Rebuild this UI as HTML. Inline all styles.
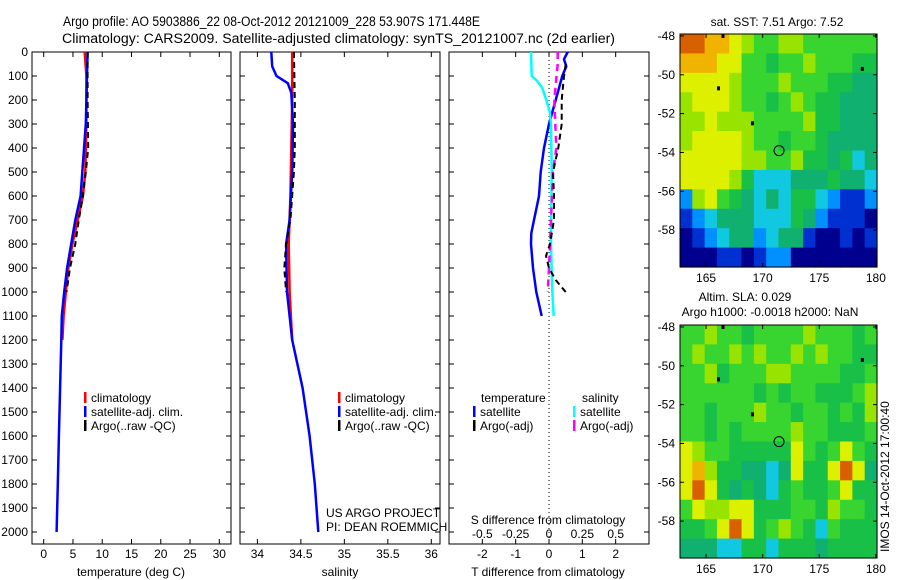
<!DOCTYPE html>
<html><head><meta charset="utf-8"><style>
body{margin:0;background:#fff}
svg{display:block;font-family:"Liberation Sans",sans-serif}
</style></head><body>
<svg id="fig" width="900" height="580" viewBox="0 0 900 580">
<text x="63" y="26" font-size="13.5" textLength="417" lengthAdjust="spacingAndGlyphs">Argo profile: AO 5903886_22 08-Oct-2012 20121009_228 53.907S 171.448E</text>
<text x="62" y="43" font-size="13.5" textLength="553" lengthAdjust="spacingAndGlyphs">Climatology: CARS2009. Satellite-adjusted climatology: synTS_20121007.nc (2d earlier)</text>
<g id="g"></g>
</svg>
<script>
// ---------- data ----------
const depthTicks=[0,100,200,300,400,500,600,700,800,900,1000,1100,1200,1300,1400,1500,1600,1700,1800,1900,2000];
const tTicks=[0,5,10,15,20,25,30];
const sTicks=[34,34.5,35,35.5,36];
const dTTicks=[-2,-1,0,1,2];
const dSTicks=[-0.5,-0.25,0,0.25,0.5];
const dSTickLabels=["-0.5","-0.25","0","0.25","0.5"];
// temperature panel
const tClimDepth=[0,100,300,500,600,700,800,900,1000,1100,1200];
const tClimVal=[7.0,7.3,7.3,7.1,6.7,5.8,4.9,4.2,3.8,3.4,3.2];
const tSatDepth=[0,100,300,500,600,700,800,900,1000,1100,1200,1400,1500,1600,1800,2000];
const tSatVal=[7.5,7.4,7.2,6.6,6.3,5.4,4.7,4.0,3.5,3.1,3.0,2.8,2.7,2.6,2.4,2.2];
const tArgoDepth=[0,200,400,500,600,700,800,900,1000];
const tArgoVal=[7.5,7.5,7.6,7.2,6.7,6.0,5.4,4.5,3.9];
// salinity panel
const sClimDepth=[0,200,400,600,800,1000,1200];
const sClimVal=[34.40,34.40,34.39,34.38,34.36,34.37,34.40];
const sSatDepth=[0,60,100,130,170,300,500,700,800,1000,1200,1400,1600,1800,2000];
const sSatVal=[34.16,34.17,34.22,34.35,34.39,34.41,34.40,34.37,34.33,34.34,34.40,34.52,34.60,34.66,34.70];
const sArgoDepth=[0,200,400,500,700,800,900,1000];
const sArgoVal=[34.42,34.43,34.43,34.42,34.38,34.33,34.31,34.33];
// difference panel
const dTSatDepth=[0,30,60,100,200,300,400,500,600,700,755,800,900,1000,1100];
const dTSatVal=[0.56,0.45,0.52,0.40,0.20,0.00,-0.15,-0.25,-0.30,-0.45,-0.53,-0.54,-0.48,-0.38,-0.22];
const dTArgoDepth=[50,100,200,300,400,500,600,700,800,850,900,950,1000];
const dTArgoVal=[0.50,0.45,0.38,0.38,0.28,0.12,0.15,0.15,0.03,-0.09,0.00,0.20,0.50];
const dSSatDepth=[0,100,120,150,200,250,300,500,800,1000,1100];
const dSSatVal=[-0.135,-0.13,-0.09,-0.05,-0.02,0.005,0.015,0.02,0.015,0.025,0.035];
const dSArgoDepth=[0,50,200,400,500,700,900,1000];
const dSArgoVal=[0.065,0.065,0.04,0.055,0.03,0.015,0.0,-0.01];
// maps
const lonTicks=[165,170,175,180];
const latTicks=[-48,-50,-52,-54,-56,-58];
const sstGrid=[
[10,10,9,9,8,7,6,6,7,7,6,6,6,6,6,6],
[9,9,9,8,8,6,6,5,6,6,7,6,6,6,5,5],
[8,8,8,8,7,6,6,6,7,6,6,6,5,5,4,4],
[7,8,8,8,7,6,6,5,6,7,6,5,5,4,4,4],
[7,7,8,7,7,7,6,6,6,6,7,5,5,4,4,4],
[7,8,8,8,8,7,6,6,5,6,6,5,4,4,4,4],
[8,8,8,8,8,7,7,6,6,7,5,5,4,5,3,4],
[8,8,8,8,7,5,3,3,3,4,4,4,5,4,4,3],
[2,7,8,6,5,4,3,4,3,5,5,3,2,1,1,2],
[1,2,3,4,4,4,3,3,3,5,4,2,1,1,1,0],
[0,1,2,3,4,4,2,3,4,4,1,0,0,1,0,1],
[0,0,0,1,1,0,1,2,2,0,0,0,0,0,0,0]];
const slaGrid=[
[6,6,7,6,6,5,6,6,6,6,7,6,6,6,5,6],
[6,7,6,6,7,6,7,6,6,7,6,7,6,6,5,5],
[6,6,7,5,6,6,6,7,7,6,6,6,6,5,5,6],
[6,6,6,6,6,6,5,6,5,6,6,5,5,5,6,7],
[6,6,5,6,6,6,7,6,6,5,6,6,5,6,5,7],
[6,6,5,6,5,6,6,6,6,7,6,6,5,5,5,6],
[8,7,6,6,5,5,5,5,5,8,6,5,6,8,6,5],
[8,9,7,5,5,4,4,3,4,8,5,5,8,10,8,4],
[8,10,8,5,4,5,4,3,5,6,5,5,6,8,5,5],
[6,8,7,7,8,8,5,5,5,6,6,5,7,6,6,5],
[5,5,6,8,10,8,5,6,7,6,5,3,6,5,5,5],
[4,4,4,3,3,5,5,3,5,5,5,4,5,5,5,5]];
const islandLon=[166.1,169.1,178.8,166.5];
const islandLat=[-50.7,-52.5,-49.7,-48.0];
const floatLon=171.448, floatLat=-53.907;

// ---------- helpers ----------
const NS="http://www.w3.org/2000/svg";
const G=document.getElementById('g');
function mk(tag,attrs,parent){const e=document.createElementNS(NS,tag);for(const k in attrs)e.setAttribute(k,attrs[k]);(parent||G).appendChild(e);return e;}
const Y0=52, PXM=0.24, YB=544;
const yD=d=>Y0+d*PXM;
function lin(d0,d1,r0,r1){return v=>r0+(v-d0)*(r1-r0)/(d1-d0);}
const P1={l:32,r:231}, P2={l:240,r:440}, P3={l:449,r:649};
const xT=lin(-2,32,P1.l,P1.r), xS=lin(33.8,36.1,P2.l,P2.r), xDT=lin(-3,3,P3.l,P3.r), xDS=lin(-0.75,0.75,P3.l,P3.r);

function frame(P,name){
  const r=mk('rect',{x:P.l,y:Y0,width:P.r-P.l,height:YB-Y0,fill:'none',stroke:'#000','stroke-width':1});
  
  
  depthTicks.forEach(d=>{mk('line',{x1:P.l,x2:P.l+5,y1:yD(d),y2:yD(d),stroke:'#000'});mk('line',{x1:P.r,x2:P.r-5,y1:yD(d),y2:yD(d),stroke:'#000'});});
}
function xticks(P,ticks,f,labels,ly){
  ticks.forEach((t,i)=>{const x=f(t);mk('line',{x1:x,x2:x,y1:Y0,y2:Y0+5,stroke:'#000'});mk('line',{x1:x,x2:x,y1:YB,y2:YB-5,stroke:'#000'});
   const tx=mk('text',{x:x,y:ly,'font-size':12,'text-anchor':'middle'});tx.textContent=labels?labels[i]:String(t);
   
   });
}
function series(xs,ds,f,color,w,dash,name){
  const pts=xs.map((v,i)=>f(v).toFixed(1)+','+yD(ds[i]).toFixed(1)).join(' ');
  const a={points:pts,fill:'none',stroke:color,'stroke-width':w,'stroke-linejoin':'round'};
  if(dash)a['stroke-dasharray']=dash;
  const p=mk('polyline',a);
  
  
}
function txt(x,y,s,name,extra){const t=mk('text',Object.assign({x:x,y:y,'font-size':12},extra||{}));t.textContent=s;
  
  return t;}
function legend(x,y,color,label,name){
  const b=mk('rect',{x:x,y:y-10,width:2.5,height:11,fill:color});
  
  
  txt(x+7,y,label,name);
}

// ---------- panel 1 ----------
frame(P1,'temperature-axes');
depthTicks.forEach(d=>{const t=txt(28,yD(d)+4,String(d),'y-tick-label',{'text-anchor':'end'});});
xticks(P1,tTicks,xT,null,558);
txt(131,576,'temperature (deg C)','x-axis-title-temperature',{'text-anchor':'middle'});
series(tClimVal,tClimDepth,xT,'#f00',2.5,null,'temp-climatology-line');
series(tSatVal,tSatDepth,xT,'#00f',2.5,null,'temp-satellite-line');
series(tArgoVal,tArgoDepth,xT,'#000',2,'6,4','temp-argo-line');
legend(84,402,'#f00','climatology','legend-climatology');
legend(84,416,'#00f','satellite-adj. clim.','legend-satellite');
legend(84,430,'#000','Argo(..raw -QC)','legend-argo');

// ---------- panel 2 ----------
frame(P2,'salinity-axes');
xticks(P2,sTicks,xS,null,558);
txt(340,576,'salinity','x-axis-title-salinity',{'text-anchor':'middle'});
series(sClimVal,sClimDepth,xS,'#f00',2.5,null,'sal-climatology-line');
series(sSatVal,sSatDepth,xS,'#00f',2.5,null,'sal-satellite-line');
series(sArgoVal,sArgoDepth,xS,'#000',2,'6,4','sal-argo-line');
legend(338,402,'#f00','climatology','legend-climatology-2');
legend(338,416,'#00f','satellite-adj. clim.','legend-satellite-2');
legend(338,430,'#000','Argo(..raw -QC)','legend-argo-2');
txt(326,517,'US ARGO PROJECT','credit-project');
txt(326,531,'PI: DEAN ROEMMICH','credit-pi');

// ---------- panel 3 ----------
frame(P3,'difference-axes');
xticks(P3,dTTicks,xDT,null,558);
dSTicks.forEach((t,i)=>{txt(xDS(t),538,dSTickLabels[i],'s-tick-label',{'text-anchor':'middle'});});
txt(548,524,'S difference from climatology','s-axis-title',{'text-anchor':'middle'});
txt(548,576,'T difference from climatology','t-axis-title',{'text-anchor':'middle'});
const z=mk('line',{x1:xDT(0),x2:xDT(0),y1:Y0,y2:YB,stroke:'#000','stroke-dasharray':'1,3'});


series(dTSatVal,dTSatDepth,xDT,'#00f',2.5,null,'dT-satellite-line');
series(dSSatVal,dSSatDepth,xDS,'#0ff',2.5,null,'dS-satellite-line');
series(dSArgoVal,dSArgoDepth,xDS,'#f0f',2.5,'7,5','dS-argo-line');
series(dTArgoVal,dTArgoDepth,xDT,'#000',2,'6,4','dT-argo-line');
txt(481,402,'temperature','legend-temperature-header');
txt(582,402,'salinity','legend-salinity-header');
legend(473,416,'#00f','satellite','legend-t-satellite');
legend(473,430,'#000','Argo(-adj)','legend-t-argo');
legend(573,416,'#0ff','satellite','legend-s-satellite');
legend(573,430,'#f0f','Argo(-adj)','legend-s-argo');

// ---------- maps ----------
const pal=['#00008f','#0030d0','#0090ff','#10c8e0','#10b070','#18c048','#38d430','#98e400','#dcf000','#f0b400','#d86000'];
function drawMap(top,grid,name){
  const L=680,R=877,B=top+233;
  const xL=lin(162.7,180.1,L,R), yL=lin(-47.9,-59.9,top,B);
  const rows=grid.length, cols=grid[0].length;
  const cw=(R-L)/cols, ch=(B-top)/rows;
  grid.forEach((row,i)=>row.forEach((v,j)=>{
    const c=mk('rect',{x:(L+j*cw).toFixed(2),y:(top+i*ch).toFixed(2),width:(cw+0.6).toFixed(2),height:(ch+0.6).toFixed(2),fill:pal[v]});
    
    
  }));
  islandLon.forEach((lo,i)=>{mk('rect',{x:xL(lo)-1.5,y:yL(islandLat[i])-2,width:3,height:4,fill:'#000'});});
  const ci=mk('circle',{cx:xL(floatLon),cy:yL(floatLat),r:5,fill:'none',stroke:'#000','stroke-width':1});
  
  
  const fr=mk('rect',{x:L,y:top,width:R-L,height:B-top,fill:'none',stroke:'#000'});
  
  
  latTicks.forEach(t=>{const y=yL(t);mk('line',{x1:L,x2:L+4,y1:y,y2:y,stroke:'#000'});mk('line',{x1:R,x2:R-4,y1:y,y2:y,stroke:'#000'});
    txt(L-5,y+4,String(t),name+'-lat-label',{'text-anchor':'end'});});
  lonTicks.forEach(t=>{const x=xL(t);mk('line',{x1:x,x2:x,y1:top,y2:top+4,stroke:'#000'});mk('line',{x1:x,x2:x,y1:B,y2:B-4,stroke:'#000'});
    txt(x,B+15,String(t),name+'-lon-label',{'text-anchor':'middle'});});
}
drawMap(34,sstGrid,'sst-map');
drawMap(325,slaGrid,'sla-map');
txt(777,26,'sat. SST: 7.51 Argo: 7.52','sst-map-title',{'text-anchor':'middle'});
txt(745,301,'Altim. SLA: 0.029','sla-map-title',{'text-anchor':'middle'});
txt(770,316,'Argo h1000: -0.0018 h2000: NaN','sla-map-subtitle',{'text-anchor':'middle'});
txt(0,0,'IMOS 14-Oct-2012 17:00:40','timestamp',{transform:'translate(889,552) rotate(-90)','font-size':12});
</script>
</body></html>
